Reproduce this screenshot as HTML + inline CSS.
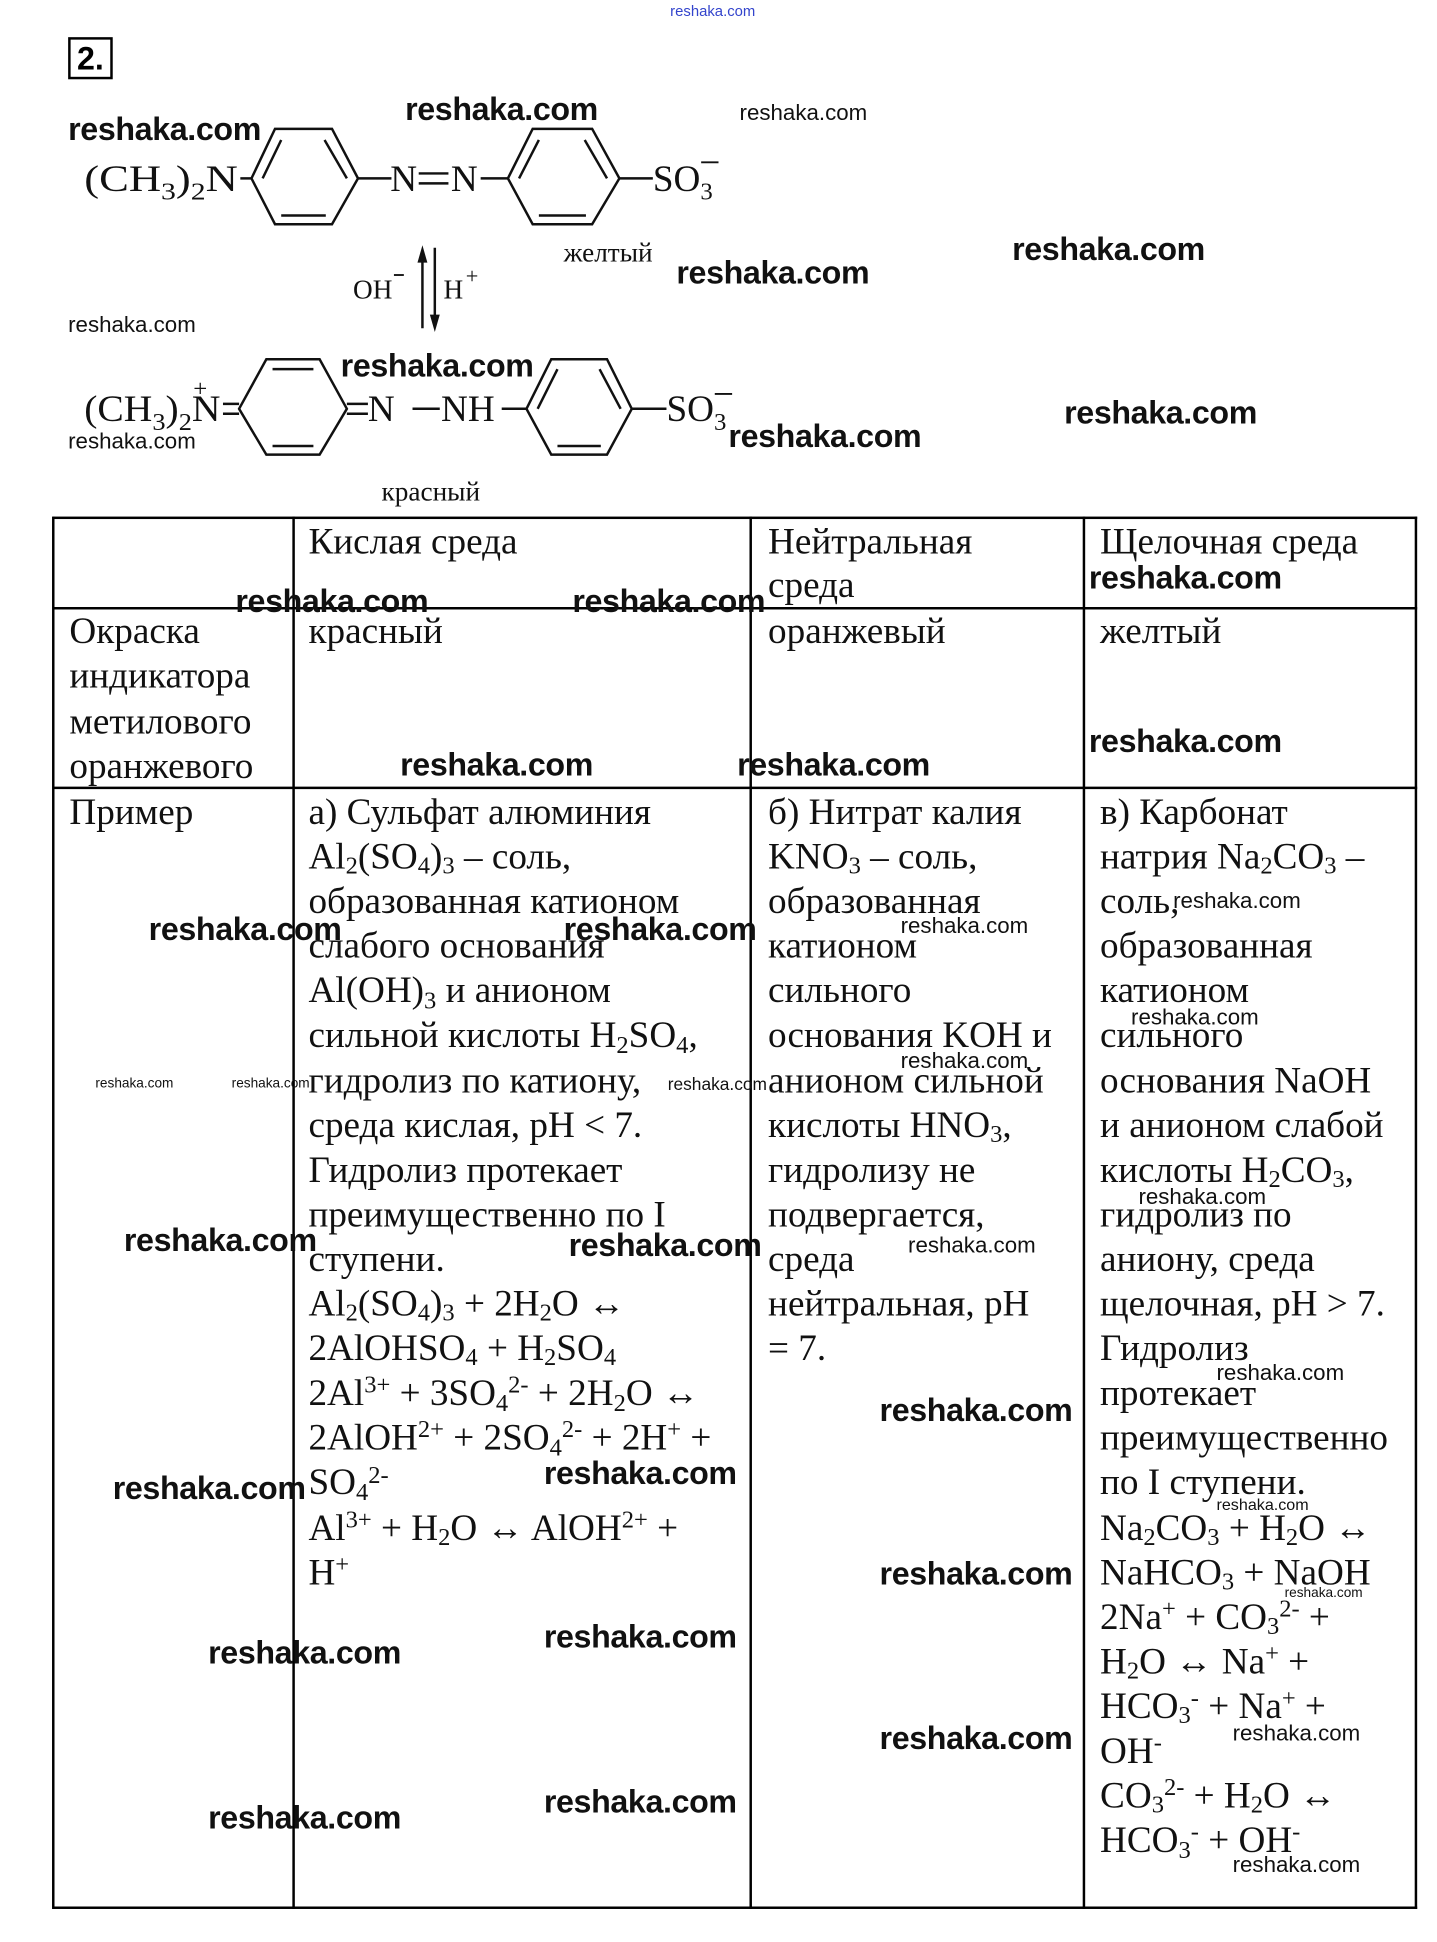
<!DOCTYPE html>
<html><head><meta charset="utf-8">
<style>
html,body{margin:0;padding:0;background:#fff;}
body{width:1437px;height:1942px;overflow:hidden;position:relative;}
#c{position:absolute;left:0;top:0;width:1160px;height:1568px;transform:scale(1.23879);transform-origin:0 0;}
.t{position:absolute;font-family:"Liberation Serif",serif;font-size:30px;line-height:36.1px;white-space:nowrap;color:#111;}
.t sub,.t sup{font-size:0.66em;line-height:0;vertical-align:baseline;position:relative;}
.t sub{top:0.22em;}
.t sup{top:-0.5em;}
.w{position:absolute;font-family:"Liberation Sans",sans-serif;font-size:26px;font-weight:bold;color:#111;white-space:nowrap;line-height:30px;letter-spacing:-0.3px;}
.m{position:absolute;font-family:"Liberation Sans",sans-serif;font-size:18px;color:#111;white-space:nowrap;line-height:20px;}
.s{position:absolute;font-family:"Liberation Sans",sans-serif;font-size:11px;color:#111;white-space:nowrap;line-height:12px;}
.h{position:absolute;background:#000;height:2px;}
.v{position:absolute;background:#000;width:2px;}
text{font-family:"Liberation Serif",serif;fill:#111;}
</style></head><body><div id="c">

<div style="position:absolute;left:55px;top:30px;width:32px;height:30px;border:2px solid #000;font-family:'Liberation Sans',sans-serif;font-weight:bold;font-size:26px;line-height:30px;text-align:center;">2.</div>
<div class="s" style="left:541px;top:3px;color:#3344cc;font-size:12px;">reshaka.com</div>

<svg style="position:absolute;left:0;top:0" width="1160" height="420">
<g stroke="#111" stroke-width="2" fill="none">
<polygon points="203,144 222,104 268,104 289,144 268,181 222,181"/>
<line x1="212" y1="144" x2="227" y2="113"/><line x1="262" y1="113" x2="280" y2="144"/><line x1="227" y1="174" x2="263" y2="174"/>
<line x1="194" y1="144" x2="203" y2="144"/><line x1="289" y1="144" x2="316" y2="144"/>
<line x1="388" y1="144" x2="410" y2="144"/>
<polygon points="410,144 430,104 478,104 500,144 478,181 430,181"/>
<line x1="419" y1="144" x2="435" y2="113"/><line x1="472" y1="113" x2="490" y2="144"/><line x1="435" y1="174" x2="473" y2="174"/>
<line x1="500" y1="144" x2="527" y2="144"/>
<polygon points="193,330 215,290 258,290 280,330 258,367 215,367"/>
<line x1="220" y1="298" x2="253" y2="298"/><line x1="220" y1="360" x2="253" y2="360"/>
<line x1="180" y1="326" x2="193" y2="326"/><line x1="180" y1="334" x2="193" y2="334"/>
<line x1="280" y1="326" x2="297" y2="326"/><line x1="280" y1="334" x2="297" y2="334"/>
<line x1="333" y1="330" x2="355" y2="330"/>
<line x1="405" y1="330" x2="425" y2="330"/>
<polygon points="425,330 445,290 490,290 510,330 490,367 445,367"/>
<line x1="434" y1="330" x2="450" y2="298"/><line x1="484" y1="298" x2="501" y2="330"/><line x1="450" y1="360" x2="485" y2="360"/>
<line x1="510" y1="330" x2="538" y2="330"/>
<line x1="341" y1="204" x2="341" y2="265"/><line x1="351" y1="200" x2="351" y2="262"/>
</g>
<polygon points="341,198 337,212 345,212" fill="#111"/>
<polygon points="351,268 347,254 355,254" fill="#111"/>
<text x="68" y="154" style="font-size:30px" textLength="124" lengthAdjust="spacingAndGlyphs">(CH<tspan style="font-size:20px" dy="7">3</tspan><tspan dy="-7">)</tspan><tspan style="font-size:20px" dy="7">2</tspan><tspan dy="-7">N</tspan></text>
<text x="315" y="154" style="font-size:30px">N</text>
<line x1="338" y1="140" x2="362" y2="140" stroke="#111" stroke-width="2"/><line x1="338" y1="148" x2="362" y2="148" stroke="#111" stroke-width="2"/>
<text x="364" y="154" style="font-size:30px">N</text>
<text x="527" y="154" style="font-size:30px">SO<tspan style="font-size:20px" dy="7">3</tspan></text>
<line x1="566" y1="131" x2="580" y2="131" stroke="#111" stroke-width="1.5"/>
<text x="455" y="211" style="font-size:22px">желтый</text>
<text x="285" y="241" style="font-size:22px">OH</text><line x1="318" y1="222" x2="326" y2="222" stroke="#111" stroke-width="1.5"/>
<text x="358" y="241" style="font-size:22px">H</text><text x="376" y="229" style="font-size:18px">+</text>
<text x="68" y="340" style="font-size:30px" textLength="110" lengthAdjust="spacingAndGlyphs">(CH<tspan style="font-size:20px" dy="7">3</tspan><tspan dy="-7">)</tspan><tspan style="font-size:20px" dy="7">2</tspan><tspan dy="-7">N</tspan></text>
<text x="156" y="320" style="font-size:20px">+</text>
<text x="297" y="340" style="font-size:30px">N</text>
<text x="356" y="340" style="font-size:30px">NH</text>
<text x="538" y="340" style="font-size:30px">SO<tspan style="font-size:20px" dy="7">3</tspan></text>
<line x1="577" y1="318" x2="591" y2="318" stroke="#111" stroke-width="1.5"/>
<text x="308" y="404" style="font-size:22px">красный</text>
</svg>

<div class="h" style="left:43px;top:417px;width:1101px;"></div>
<div class="h" style="left:43px;top:490px;width:1101px;"></div>
<div class="h" style="left:43px;top:635px;width:1101px;"></div>
<div class="h" style="left:43px;top:1539px;width:1101px;"></div>
<div class="v" style="left:42px;top:417px;height:1124px;"></div>
<div class="v" style="left:236px;top:417px;height:1124px;"></div>
<div class="v" style="left:605px;top:417px;height:1124px;"></div>
<div class="v" style="left:874px;top:417px;height:1124px;"></div>
<div class="v" style="left:1142px;top:417px;height:1124px;"></div>

<div class="t" style="left:249px;top:420px;line-height:35px;">Кислая среда</div>
<div class="t" style="left:620px;top:420px;line-height:35px;">Нейтральная<br>среда</div>
<div class="t" style="left:888px;top:420px;line-height:35px;">Щелочная среда</div>

<div class="t" style="left:56px;top:492px;line-height:36.3px;">Окраска<br>индикатора<br>метилового<br>оранжевого</div>
<div class="t" style="left:249px;top:492px;line-height:36.3px;">красный</div>
<div class="t" style="left:620px;top:492px;line-height:36.3px;">оранжевый</div>
<div class="t" style="left:888px;top:492px;line-height:36.3px;">желтый</div>

<div class="t" style="left:56px;top:638px;">Пример</div>
<div class="t" style="left:249px;top:638px;">а) Сульфат алюминия<br>Al<sub>2</sub>(SO<sub>4</sub>)<sub>3</sub> – соль,<br>образованная катионом<br>слабого основания<br>Al(OH)<sub>3</sub> и анионом<br>сильной кислоты H<sub>2</sub>SO<sub>4</sub>,<br>гидролиз по катиону,<br>среда кислая, pH &lt; 7.<br>Гидролиз протекает<br>преимущественно по I<br>ступени.<br>Al<sub>2</sub>(SO<sub>4</sub>)<sub>3</sub> + 2H<sub>2</sub>O ↔<br>2AlOHSO<sub>4</sub> + H<sub>2</sub>SO<sub>4</sub><br>2Al<sup>3+</sup> + 3SO<sub>4</sub><sup>2-</sup> + 2H<sub>2</sub>O ↔<br>2AlOH<sup>2+</sup> + 2SO<sub>4</sub><sup>2-</sup> + 2H<sup>+</sup> +<br>SO<sub>4</sub><sup>2-</sup><br>Al<sup>3+</sup> + H<sub>2</sub>O ↔ AlOH<sup>2+</sup> +<br>H<sup>+</sup></div>
<div class="t" style="left:620px;top:638px;">б) Нитрат калия<br>KNO<sub>3</sub> – соль,<br>образованная<br>катионом<br>сильного<br>основания KOH и<br>анионом сильной<br>кислоты HNO<sub>3</sub>,<br>гидролизу не<br>подвергается,<br>среда<br>нейтральная, pH<br>= 7.</div>
<div class="t" style="left:888px;top:638px;">в) Карбонат<br>натрия Na<sub>2</sub>CO<sub>3</sub> –<br>соль,<br>образованная<br>катионом<br>сильного<br>основания NaOH<br>и анионом слабой<br>кислоты H<sub>2</sub>CO<sub>3</sub>,<br>гидролиз по<br>аниону, среда<br>щелочная, pH &gt; 7.<br>Гидролиз<br>протекает<br>преимущественно<br>по I ступени.<br>Na<sub>2</sub>CO<sub>3</sub> + H<sub>2</sub>O ↔<br>NaHCO<sub>3</sub> + NaOH<br>2Na<sup>+</sup> + CO<sub>3</sub><sup>2-</sup> +<br>H<sub>2</sub>O ↔ Na<sup>+</sup> +<br>HCO<sub>3</sub><sup>-</sup> + Na<sup>+</sup> +<br>OH<sup>-</sup><br>CO<sub>3</sub><sup>2-</sup> + H<sub>2</sub>O ↔<br>HCO<sub>3</sub><sup>-</sup> + OH<sup>-</sup></div>

<div class="w" style="left:55px;top:89px;">reshaka.com</div>
<div class="w" style="left:327px;top:73px;">reshaka.com</div>
<div class="w" style="left:546px;top:205px;">reshaka.com</div>
<div class="w" style="left:817px;top:186px;">reshaka.com</div>
<div class="w" style="left:275px;top:280px;">reshaka.com</div>
<div class="w" style="left:859px;top:318px;">reshaka.com</div>
<div class="w" style="left:588px;top:337px;">reshaka.com</div>
<div class="w" style="left:190px;top:470px;">reshaka.com</div>
<div class="w" style="left:462px;top:470px;">reshaka.com</div>
<div class="w" style="left:879px;top:451px;">reshaka.com</div>
<div class="w" style="left:323px;top:602px;">reshaka.com</div>
<div class="w" style="left:595px;top:602px;">reshaka.com</div>
<div class="w" style="left:879px;top:583px;">reshaka.com</div>
<div class="w" style="left:120px;top:735px;">reshaka.com</div>
<div class="w" style="left:455px;top:735px;">reshaka.com</div>
<div class="w" style="left:100px;top:986px;">reshaka.com</div>
<div class="w" style="left:459px;top:990px;">reshaka.com</div>
<div class="w" style="left:710px;top:1123px;">reshaka.com</div>
<div class="w" style="left:91px;top:1186px;">reshaka.com</div>
<div class="w" style="left:439px;top:1174px;">reshaka.com</div>
<div class="w" style="left:710px;top:1255px;">reshaka.com</div>
<div class="w" style="left:168px;top:1319px;">reshaka.com</div>
<div class="w" style="left:439px;top:1306px;">reshaka.com</div>
<div class="w" style="left:710px;top:1388px;">reshaka.com</div>
<div class="w" style="left:168px;top:1452px;">reshaka.com</div>
<div class="w" style="left:439px;top:1439px;">reshaka.com</div>
<div class="m" style="left:597px;top:81px;">reshaka.com</div>
<div class="m" style="left:55px;top:252px;">reshaka.com</div>
<div class="m" style="left:55px;top:346px;">reshaka.com</div>
<div class="m" style="left:947px;top:717px;">reshaka.com</div>
<div class="m" style="left:727px;top:737px;">reshaka.com</div>
<div class="m" style="left:913px;top:811px;">reshaka.com</div>
<div class="m" style="left:727px;top:846px;">reshaka.com</div>
<div class="m" style="left:919px;top:956px;">reshaka.com</div>
<div class="m" style="left:733px;top:995px;">reshaka.com</div>
<div class="m" style="left:982px;top:1098px;">reshaka.com</div>
<div class="m" style="left:995px;top:1389px;">reshaka.com</div>
<div class="m" style="left:995px;top:1495px;">reshaka.com</div>
<div class="s" style="left:77px;top:869px;">reshaka.com</div>
<div class="s" style="left:187px;top:869px;">reshaka.com</div>
<div class="s" style="left:539px;top:869px;font-size:14px;">reshaka.com</div>
<div class="s" style="left:982px;top:1209px;font-size:13px;">reshaka.com</div>
<div class="s" style="left:1037px;top:1280px;">reshaka.com</div>
</div></body></html>
